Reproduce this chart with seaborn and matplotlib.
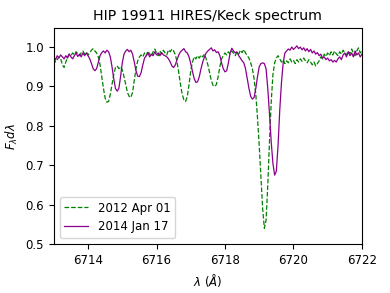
import numpy as np
import pandas as pd
import seaborn as sns
import matplotlib
matplotlib.use("Agg")
import matplotlib.pyplot as plt

# wavelength grid of the spectra (Angstrom)
wave_start = 6713.0
wave_step = 0.05

# normalised flux, 2012 Apr 01 (0.05 A sampling)
flux_2012 = [
    0.972, 0.962, 0.968, 0.975, 0.970, 0.955, 0.948, 0.962, 0.975, 0.982,
    0.978, 0.985, 0.980, 0.988, 0.983, 0.978, 0.985, 0.990, 0.982, 0.987,
    0.980, 0.985, 0.992, 0.996, 0.990, 0.985, 0.975, 0.955, 0.925, 0.895,
    0.870, 0.860, 0.862, 0.880, 0.905, 0.930, 0.948, 0.952, 0.945, 0.950,
    0.942, 0.925, 0.905, 0.885, 0.875, 0.872, 0.885, 0.915, 0.945, 0.965,
    0.975, 0.980, 0.975, 0.985, 0.978, 0.990, 0.982, 0.976, 0.988, 0.995,
    0.985, 0.978, 0.990, 0.982, 0.992, 0.985, 0.980, 0.993, 0.988, 0.995,
    0.990, 0.980, 0.962, 0.935, 0.905, 0.880, 0.866, 0.862, 0.875, 0.905,
    0.940, 0.962, 0.975, 0.970, 0.978, 0.972, 0.980, 0.975, 0.982, 0.970,
    0.955, 0.935, 0.915, 0.903, 0.900, 0.905, 0.925, 0.950, 0.970, 0.978,
    0.985, 0.980, 0.988, 0.982, 0.990, 0.984, 0.978, 0.988, 0.982, 0.992,
    0.986, 0.994, 0.985, 0.978, 0.972, 0.960, 0.945, 0.920, 0.880, 0.820,
    0.750, 0.670, 0.590, 0.540, 0.560, 0.650, 0.760, 0.860, 0.930, 0.960,
    0.972, 0.978, 0.970, 0.962, 0.968, 0.958, 0.965, 0.960, 0.970, 0.962,
    0.966, 0.958, 0.968, 0.962, 0.970, 0.964, 0.972, 0.965, 0.960, 0.968,
    0.962, 0.955, 0.962, 0.952, 0.958, 0.965, 0.975, 0.970, 0.982, 0.976,
    0.985, 0.978, 0.988, 0.980, 0.990, 0.983, 0.978, 0.988, 0.982, 0.992,
    0.985, 0.980, 0.990, 0.983, 0.995, 0.985, 0.978, 0.990, 0.998, 0.985,
    0.990,
]

# normalised flux, 2014 Jan 17
flux_2014 = [
    0.975, 0.968, 0.978, 0.972, 0.980, 0.975, 0.970, 0.978, 0.972, 0.982,
    0.975, 0.970, 0.978, 0.985, 0.976, 0.982, 0.975, 0.985, 0.978, 0.985,
    0.978, 0.970, 0.958, 0.945, 0.940, 0.945, 0.962, 0.978, 0.986, 0.990,
    0.985, 0.992, 0.988, 0.975, 0.950, 0.920, 0.895, 0.888, 0.895, 0.925,
    0.960, 0.982, 0.990, 0.994, 0.988, 0.992, 0.982, 0.962, 0.940, 0.926,
    0.925, 0.935, 0.955, 0.972, 0.978, 0.985, 0.975, 0.982, 0.978, 0.988,
    0.980, 0.985, 0.978, 0.986, 0.980, 0.978, 0.975, 0.970, 0.962, 0.952,
    0.948, 0.955, 0.968, 0.980, 0.988, 0.992, 0.996, 0.988, 0.985, 0.975,
    0.958, 0.938, 0.920, 0.910, 0.912, 0.925, 0.945, 0.962, 0.975, 0.985,
    0.990, 0.994, 0.998, 0.990, 0.993, 0.986, 0.988, 0.978, 0.960, 0.945,
    0.937, 0.940, 0.960, 0.985, 0.997, 0.990, 0.985, 0.988, 0.978, 0.972,
    0.965, 0.960, 0.945, 0.920, 0.895, 0.875, 0.868, 0.872, 0.895, 0.925,
    0.950, 0.958, 0.960, 0.958, 0.945, 0.895, 0.830, 0.760, 0.705, 0.675,
    0.685, 0.750, 0.840, 0.910, 0.960, 0.985, 0.990, 0.995, 0.992, 1.000,
    0.994, 0.998, 1.003, 0.996, 1.000, 0.993, 0.998, 0.990, 0.996, 0.988,
    0.994, 0.985, 0.990, 0.982, 0.986, 0.978, 0.982, 0.972, 0.975, 0.968,
    0.972, 0.965, 0.968, 0.962, 0.966, 0.962, 0.970, 0.975, 0.968, 0.980,
    0.985, 0.975, 0.988, 0.978, 0.985, 0.975, 0.990, 0.980, 0.985, 0.975,
    0.982,
]

wave_2012 = np.round(wave_start + wave_step * np.arange(len(flux_2012)), 2)
wave_2014 = np.round(wave_start + wave_step * np.arange(len(flux_2014)), 2)

df_2012 = pd.DataFrame({'wave': wave_2012, 'flux': flux_2012})
df_2014 = pd.DataFrame({'wave': wave_2014, 'flux': flux_2014})

fig = plt.figure(figsize=(3.9, 2.93), dpi=100)
ax = fig.add_axes([0.138, 0.167, 0.79, 0.737])

sns.lineplot(data=df_2012, x='wave', y='flux', ax=ax, color='green',
             linestyle='--', linewidth=0.9, label='2012 Apr 01')
sns.lineplot(data=df_2014, x='wave', y='flux', ax=ax, color='darkmagenta',
             linewidth=0.9, label='2014 Jan 17')

ax.set_xlim(6713, 6722)
ax.set_ylim(0.5, 1.048)
ax.set_xticks([6714, 6716, 6718, 6720, 6722])
ax.set_yticks([0.5, 0.6, 0.7, 0.8, 0.9, 1.0])
ax.tick_params(labelsize=8.5)
ax.set_xlabel(r'$\lambda\ (\AA)$', fontsize=8.5)
ax.set_ylabel(r'$F_\lambda d\lambda$', fontsize=8.5)
ax.set_title('HIP 19911 HIRES/Keck spectrum', fontsize=10.2)
ax.legend(loc='lower left', fontsize=8.5)

fig.savefig('out.png', dpi=100)
